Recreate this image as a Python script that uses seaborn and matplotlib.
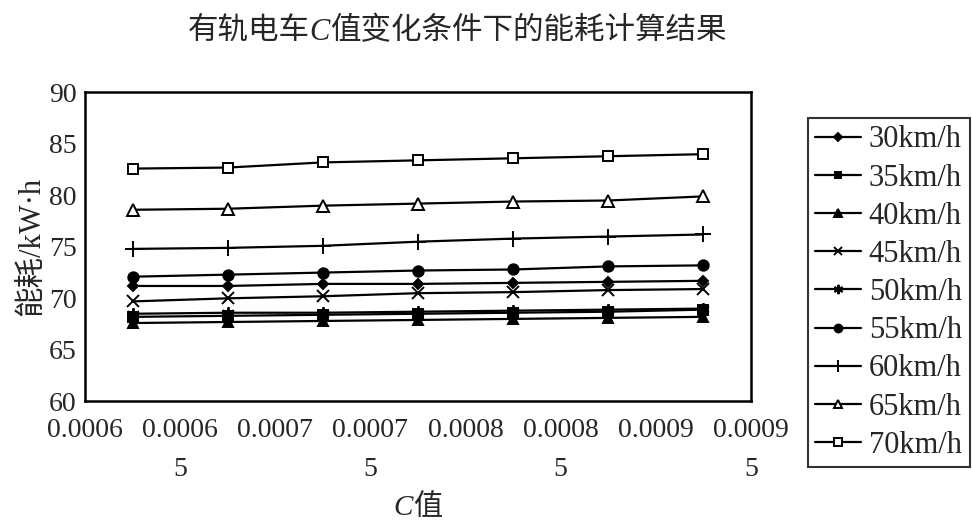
import matplotlib

matplotlib.use("Agg")
import matplotlib.pyplot as plt
import pandas as pd
import seaborn as sns

# C values at which the energy use was computed
c_values = [0.000625, 0.000675, 0.000725, 0.000775, 0.000825, 0.000875, 0.000925]

speeds = ["30km/h", "35km/h", "40km/h", "45km/h", "50km/h", "55km/h", "60km/h", "65km/h", "70km/h"]

# energy consumption (kW·h) per speed
e_30 = [71.2, 71.2, 71.4, 71.4, 71.5, 71.6, 71.7]
e_35 = [68.2, 68.3, 68.4, 68.5, 68.6, 68.7, 68.9]
e_40 = [67.6, 67.7, 67.8, 67.9, 68.0, 68.1, 68.2]
e_45 = [69.7, 70.0, 70.2, 70.5, 70.6, 70.8, 70.9]
e_50 = [68.5, 68.6, 68.6, 68.7, 68.8, 68.9, 69.0]
e_55 = [72.1, 72.3, 72.5, 72.7, 72.8, 73.1, 73.2]
e_60 = [74.8, 74.9, 75.1, 75.5, 75.8, 76.0, 76.2]
e_65 = [78.6, 78.7, 79.0, 79.2, 79.4, 79.5, 79.9]
e_70 = [82.6, 82.7, 83.2, 83.4, 83.6, 83.8, 84.0]

x_ticks = [0.0006, 0.00065, 0.0007, 0.00075, 0.0008, 0.00085, 0.0009, 0.00095]
x_tick_labels = ["0.0006", "0.0006\n5", "0.0007", "0.0007\n5", "0.0008", "0.0008\n5", "0.0009", "0.0009\n5"]
y_ticks = [60, 65, 70, 75, 80, 85, 90]

df = pd.DataFrame({"C": c_values})
for name, vals in zip(speeds, [e_30, e_35, e_40, e_45, e_50, e_55, e_60, e_65, e_70]):
    df[name] = vals
long_df = df.melt(id_vars="C", var_name="speed", value_name="energy")

# marker, face colour, size
styles = {
    "30km/h": ("D", "black", 5.5),
    "35km/h": ("s", "black", 6.5),
    "40km/h": ("^", "black", 7.5),
    "45km/h": ("x", "black", 8),
    "50km/h": ((6, 2, 0), "black", 9),
    "55km/h": ("o", "black", 7.5),
    "60km/h": ("+", "black", 11),
    "65km/h": ("^", "white", 8),
    "70km/h": ("s", "white", 7),
}

SERIF = ["Liberation Serif", "Noto Sans CJK SC"]
CJK = ["Noto Sans CJK SC", "Liberation Serif"]

sns.set_style("white")
plt.rcParams["font.family"] = SERIF


def mixed_text(fig, x, y, parts, size):
    """Write a line made of pieces (text, italic?) centred on x in figure coords."""
    renderer = fig.canvas.get_renderer()
    figw = fig.get_window_extent().width
    items = []
    for s, italic in parts:
        t = fig.text(
            0, y, s, fontsize=size, va="baseline", ha="left",
            family=SERIF if italic else CJK, style="italic" if italic else "normal",
        )
        items.append((t, t.get_window_extent(renderer).width / figw))
    total = sum(w for _, w in items)
    cur = x - total / 2
    for t, w in items:
        t.set_x(cur)
        cur += w


fig = plt.figure(figsize=(9.72, 5.28), dpi=100)
ax = fig.add_axes([0.0875, 0.24, 0.685, 0.585])

for name in speeds:
    marker, face, size = styles[name]
    sns.lineplot(
        data=long_df[long_df["speed"] == name],
        x="C",
        y="energy",
        ax=ax,
        color="black",
        linewidth=1.6,
        marker=marker,
        markersize=size,
        markerfacecolor=face,
        markeredgecolor="black",
        markeredgewidth=1.4,
        label=name,
        legend=False,
    )

ax.set_xlim(0.0006, 0.00095)
ax.set_ylim(60, 90)
ax.set_xticks(x_ticks)
ax.set_xticklabels(x_tick_labels, fontsize=20, linespacing=1.75, va="top")
ax.set_yticks(y_ticks)
ax.tick_params(axis="y", direction="in", length=8, width=1.2, labelsize=20, pad=6)
ax.tick_params(axis="x", length=0, pad=12)
for spine in ax.spines.values():
    spine.set_color("black")
    spine.set_linewidth(1.8)

ax.set_xlabel("")
ax.set_ylabel("能耗/kW·h", fontsize=22, labelpad=2, family=SERIF)

mixed_text(fig, 0.47, 0.925, [("有轨电车", False), ("C", True), ("值变化条件下的能耗计算结果", False)], 22)
mixed_text(fig, 0.43, 0.025, [("C", True), ("值", False)], 21)

handles, labels = ax.get_legend_handles_labels()
leg = fig.legend(
    handles,
    labels,
    loc="upper left",
    bbox_to_anchor=(0.831, 0.777),
    fontsize=22,
    frameon=True,
    fancybox=False,
    edgecolor="black",
    handlelength=1.5,
    handletextpad=0.25,
    labelspacing=0.3,
    borderpad=0.25,
    borderaxespad=0,
)
leg.get_frame().set_linewidth(1.5)
for h in leg.legend_handles:
    h.set_markersize(h.get_markersize() * 0.75)

fig.savefig("out.png", dpi=100)
plt.close()
